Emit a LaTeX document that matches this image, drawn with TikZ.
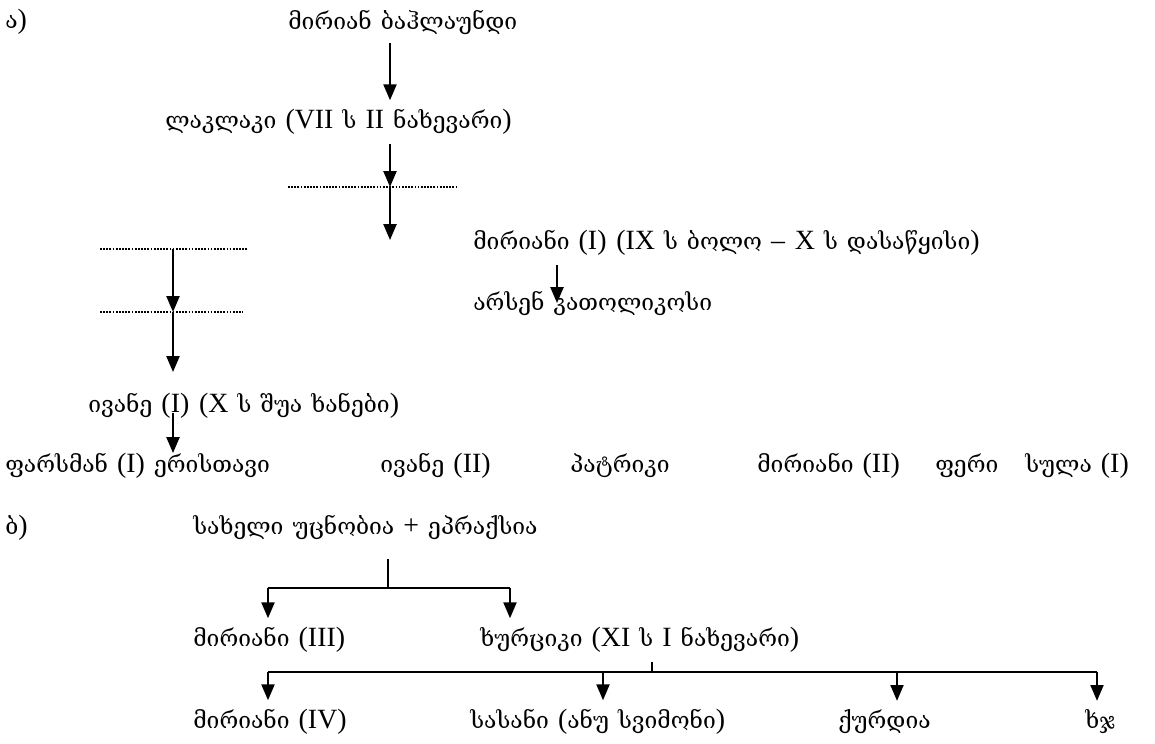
\documentclass[tikz,border=0pt]{standalone}
\usepackage{fontspec}
\setmainfont[WordSpace=1.25]{DejaVu Serif}
\newfontfamily\romfont[Scale=1.22, WordSpace=1.4]{Liberation Serif}
\newcommand{\rn}[1]{{\romfont #1}}
\usetikzlibrary{positioning, arrows, arrows.meta}

\begin{document}
\begin{tikzpicture}[x=0.02cm, y=-0.02cm,
        txt/.style={anchor=west, inner xsep=0pt, inner ysep=5pt, font=\fontsize{13}{15}\selectfont},
        arr/.style={-{Triangle[width=7.4pt,length=9pt]}, line width=1.1pt},
        ln/.style={line width=1.1pt},
        dots/.style={line width=1pt, dash pattern=on 1pt off 0.8pt}]
        \useasboundingbox (0,0) rectangle (1155,743);

        % a)
        \node[txt] (la) at (5,22) {ა\rn{)}};
        \node[txt] (mb) at (288,22) {მირიან ბაჰლაუნდი};
        \node[txt] (lak) at (165,122) {ლაკლაკი \rn{(VII} ს \rn{II} ნახევარი\rn{)}};
        \node[txt] (mir1) at (473,243) {მირიანი \rn{(I) (IX} ს ბოლო \rn{– X} ს დასაწყისი\rn{)}};
        \node[txt] (ars) at (473,303) {არსენ კათოლიკოსი};
        \node[txt] (iv1) at (88,406) {ივანე \rn{(I) (X} ს შუა ხანები\rn{)}};
        \node[txt] (far) at (5,466) {ფარსმან \rn{(I)} ერისთავი};
        \node[txt] (iv2) at (380,466) {ივანე \rn{(II)}};
        \node[txt] (pat) at (570,466) {პატრიკი};
        \node[txt] (mir2) at (757,466) {მირიანი \rn{(II)}};
        \node[txt] (fer) at (935,466) {ფერი};
        \node[txt] (sul) at (1025,466) {სულა \rn{(I)}};

        \coordinate (d1a) at (288,187);
        \coordinate (d1b) at (458,187);
        \coordinate (d1m) at (390,187);
        \coordinate (e1) at (390,240);
        \coordinate (a4) at (557,262);
        \coordinate (d2a) at (100,249);
        \coordinate (d2b) at (248,249);
        \coordinate (d2m) at (173,249);
        \coordinate (d3a) at (100,312);
        \coordinate (d3b) at (243,312);
        \coordinate (d3m) at (173,312);
        \coordinate (e2) at (173,372);

        \draw[arr] (mb.south -| d1m) -- (lak.north -| d1m);
        \draw[arr] (lak.south -| d1m) -- (d1m);
        \draw[dots] (d1a) -- (d1b);
        \draw[arr] (d1m) -- (e1);
        \draw[arr] (mir1.south -| a4) -- (ars.center -| a4);
        \draw[dots] (d2a) -- (d2b);
        \draw[dots] (d3a) -- (d3b);
        \draw[arr] (d2m) -- (d3m);
        \draw[arr] (d3m) -- (e2);
        \draw[arr, shorten >=-5pt] (iv1.base -| d2m) -- (far.north -| d2m);

        % b)
        \node[txt] (lb) at (5,528) {ბ\rn{)}};
        \node[txt] (sax) at (193,527) {სახელი უცნობია \rn{+} ეპრაქსია};
        \node[txt] (mir3) at (193,640) {მირიანი \rn{(III)}};
        \node[txt] (khu) at (480,640) {ხურციკი \rn{(XI} ს \rn{I} ნახევარი\rn{)}};
        \node[txt] (mir4) at (193,722) {მირიანი \rn{(IV)}};
        \node[txt] (sas) at (470,722) {სასანი \rn{(}ანუ სვიმონი\rn{)}};
        \node[txt] (qur) at (838,722) {ქურდია};
        \node[txt] (xj) at (1085,722) {ხჯ};

        \coordinate (j1) at (388,588);
        \coordinate (j1l) at (268,588);
        \coordinate (j1r) at (510,588);
        \coordinate (j2) at (652,672);
        \coordinate (j2a) at (268,672);
        \coordinate (j2b) at (603,672);
        \coordinate (j2c) at (897,672);
        \coordinate (j2d) at (1097,672);

        \draw[ln, shorten <=6pt] (sax.south -| j1) -- (j1);
        \draw[ln] (j1l) -- (j1r);
        \draw[arr] (j1l) -- (mir3.north -| j1l);
        \draw[arr] (j1r) -- (khu.north -| j1r);
        \draw[ln] (khu.south -| j2) -- (j2);
        \draw[ln] (j2a) -- (j2d);
        \foreach \c/\n in {j2a/mir4, j2b/sas, j2c/qur, j2d/xj}
            \draw[arr] (\c) -- (\n.north -| \c);
\end{tikzpicture}
\end{document}
